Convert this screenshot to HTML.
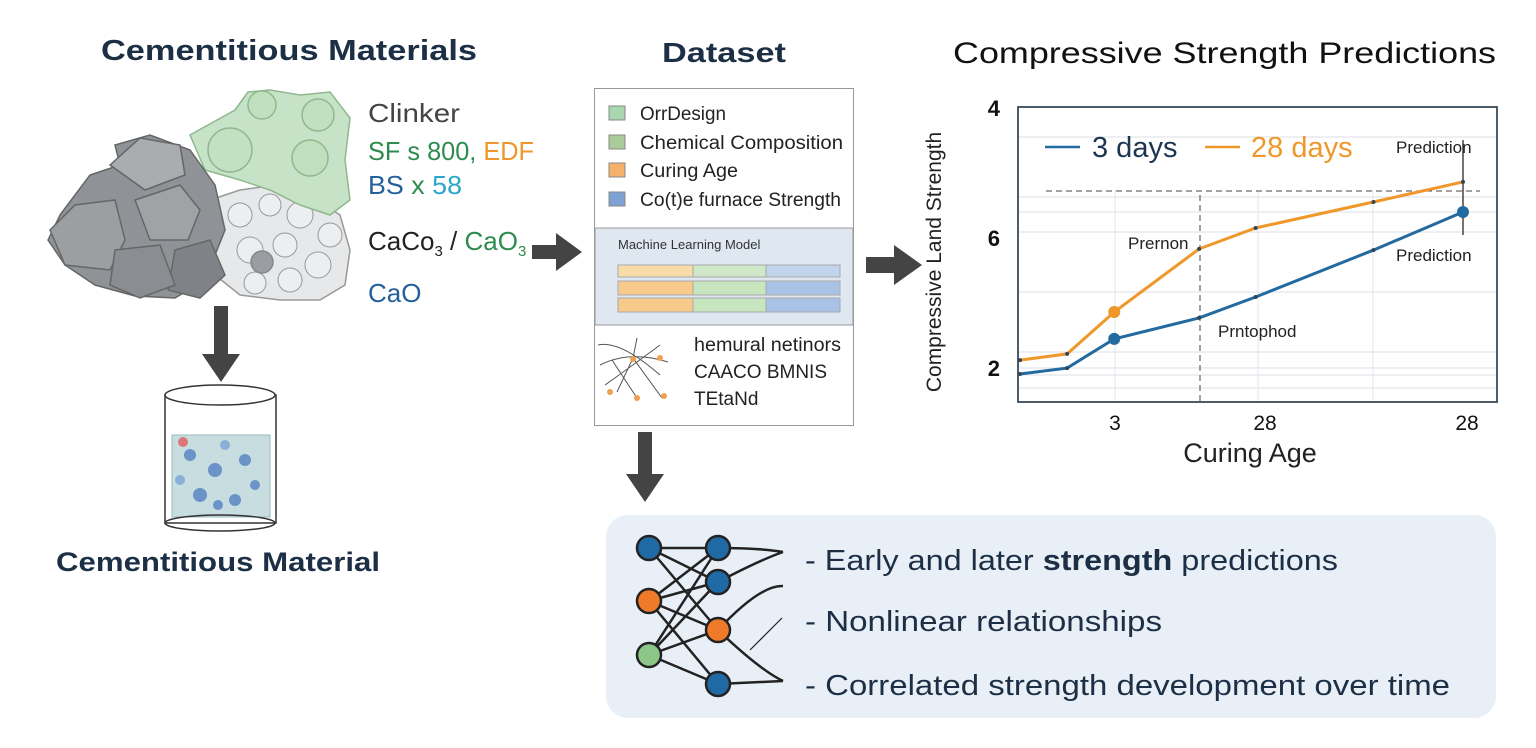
<!DOCTYPE html>
<html><head><meta charset="utf-8"><style>
body{margin:0;width:1536px;height:748px;background:#fff;overflow:hidden;font-family:"Liberation Sans","DejaVu Sans",sans-serif;}
svg{position:absolute;left:0;top:0}
</style></head><body>
<svg width="1536" height="748" viewBox="0 0 1536 748">
<!-- LEFT -->
<text x="101" y="60" font-size="29" font-weight="bold" fill="#1c2f45" textLength="376" lengthAdjust="spacingAndGlyphs">Cementitious Materials</text>
<g stroke="#666" stroke-width="1.5">
<path d="M210,200 L240,190 L275,185 L310,195 L340,215 L350,250 L345,285 L320,300 L280,300 L240,295 L215,275z" fill="#e6e8ea" stroke="#999"/>
<g fill="#eceef0" stroke="#999" stroke-width="1">
<circle cx="240" cy="215" r="12"/><circle cx="270" cy="205" r="11"/><circle cx="300" cy="215" r="13"/><circle cx="330" cy="235" r="12"/>
<circle cx="250" cy="250" r="13"/><circle cx="285" cy="245" r="12"/><circle cx="318" cy="265" r="13"/><circle cx="255" cy="283" r="11"/><circle cx="290" cy="280" r="12"/>
</g>
<circle cx="262" cy="262" r="11" fill="#9a9ea2" stroke="#888"/>
<path d="M190,135 L235,110 L248,92 L270,90 L300,95 L330,92 L350,118 L345,160 L350,200 L330,215 L300,205 L270,190 L240,180 L205,170z" fill="#c7e3c7" stroke="#8fb88f"/>
<circle cx="262" cy="105" r="14" fill="#c0e0c0" stroke="#8fb88f"/><circle cx="318" cy="115" r="16" fill="#c0e0c0" stroke="#8fb88f"/>
<circle cx="310" cy="158" r="18" fill="#bfdfbf" stroke="#8fb88f"/><circle cx="230" cy="150" r="22" fill="#c2e1c2" stroke="#8fb88f"/>
<path d="M60,215 L90,175 L120,165 L115,145 L150,135 L190,150 L215,185 L225,230 L205,280 L175,298 L135,296 L95,285 L65,265 L48,240z" fill="#8f9397"/>
<path d="M110,165 L140,138 L180,145 L185,175 L145,190z" fill="#a9adb0"/>
<path d="M135,200 L180,185 L200,210 L188,240 L150,240z" fill="#9fa3a6"/>
<path d="M50,230 L75,205 L115,200 L125,240 L110,270 L65,265z" fill="#9b9fa2"/>
<path d="M175,250 L210,240 L225,275 L200,298 L168,290z" fill="#7f8387"/>
<path d="M115,250 L160,245 L175,285 L140,298 L110,285z" fill="#8a8e92"/>
</g>
<text x="368" y="122" font-size="26" fill="#444" textLength="92" lengthAdjust="spacingAndGlyphs">Clinker</text>
<text x="368" y="160" font-size="26" textLength="166" lengthAdjust="spacingAndGlyphs"><tspan fill="#2e8b4e">SF s 800, </tspan><tspan fill="#f0962a">EDF</tspan></text>
<text x="368" y="194" font-size="26" textLength="94" lengthAdjust="spacingAndGlyphs"><tspan fill="#24609c">BS </tspan><tspan fill="#2e8b4e">x </tspan><tspan fill="#2aa6c8">58</tspan></text>
<text x="368" y="250" font-size="26"><tspan fill="#222">CaCo</tspan><tspan fill="#222" font-size="15" dy="6">3</tspan><tspan fill="#222" dy="-6"> / </tspan><tspan fill="#2e8b4e">CaO</tspan><tspan fill="#2e8b4e" font-size="15" dy="6">3</tspan></text>
<text x="368" y="302" font-size="26" fill="#24609c">CaO</text>
<path d="M214,306h14v48h12l-19,28l-19,-28h12z" fill="#444"/>
<g>
<rect x="165" y="395" width="111" height="128" fill="#fff" stroke="#333" stroke-width="1.5"/>
<rect x="172" y="435" width="98" height="82" fill="#c7dde0" stroke="#9bb"/>
<ellipse cx="220" cy="395" rx="55" ry="10" fill="#fff" stroke="#333" stroke-width="1.5"/>
<ellipse cx="220" cy="523" rx="55" ry="8" fill="none" stroke="#333" stroke-width="1.5"/>
<circle cx="190" cy="455" r="6" fill="#6b93c8"/><circle cx="215" cy="470" r="7" fill="#6b93c8"/><circle cx="245" cy="460" r="6" fill="#6b93c8"/>
<circle cx="200" cy="495" r="7" fill="#6b93c8"/><circle cx="235" cy="500" r="6" fill="#6b93c8"/><circle cx="255" cy="485" r="5" fill="#6b93c8"/><circle cx="183" cy="442" r="5" fill="#d77"/>
<circle cx="225" cy="445" r="5" fill="#8ab0d8"/><circle cx="180" cy="480" r="5" fill="#8ab0d8"/><circle cx="218" cy="505" r="5" fill="#6b93c8"/>
</g>
<text x="56" y="571" font-size="27" font-weight="bold" fill="#1c2f45" textLength="324" lengthAdjust="spacingAndGlyphs">Cementitious Material</text>
<path d="M532,245h24v-12l26,19l-26,19v-12h-24z" fill="#444"/>
<!-- MIDDLE -->
<text x="662" y="62" font-size="28" font-weight="bold" fill="#1c2f45" textLength="124" lengthAdjust="spacingAndGlyphs">Dataset</text>
<g>
<rect x="594.5" y="88.5" width="259" height="337" fill="#fff" stroke="#999"/>
<rect x="595" y="228" width="258" height="97" fill="#dfe7f1" stroke="#999"/>
<rect x="609" y="106" width="16" height="14" fill="#a9d8b0" stroke="#888"/><text x="640" y="120" font-size="19" fill="#222" textLength="86" lengthAdjust="spacingAndGlyphs">OrrDesign</text>
<rect x="609" y="135" width="16" height="14" fill="#a9cc9a" stroke="#888"/><text x="640" y="149" font-size="19" fill="#222" textLength="203" lengthAdjust="spacingAndGlyphs">Chemical Composition</text>
<rect x="609" y="163" width="16" height="14" fill="#f5b16a" stroke="#888"/><text x="640" y="177" font-size="19" fill="#222" textLength="98" lengthAdjust="spacingAndGlyphs">Curing Age</text>
<rect x="609" y="192" width="16" height="14" fill="#7fa2d4" stroke="#888"/><text x="640" y="206" font-size="19" fill="#222" textLength="201" lengthAdjust="spacingAndGlyphs">Co(t)e furnace Strength</text>
<text x="618" y="249" font-size="13" fill="#333">Machine Learning Model</text>
<g stroke="#aaa"><rect x="618" y="265" width="75" height="12" fill="#f7dba8"/><rect x="693" y="265" width="73" height="12" fill="#cfe8c8"/><rect x="766" y="265" width="74" height="12" fill="#c2d4ec"/>
<rect x="618" y="281" width="75" height="14" fill="#f7c98a"/><rect x="693" y="281" width="73" height="14" fill="#c7e5bf"/><rect x="766" y="281" width="74" height="14" fill="#a9c3e6"/>
<rect x="618" y="298" width="75" height="14" fill="#f7c98a"/><rect x="693" y="298" width="73" height="14" fill="#c7e5bf"/><rect x="766" y="298" width="74" height="14" fill="#a9c3e6"/></g>
<g stroke="#555" fill="none" stroke-width="1"><path d="M598,345 Q620,340 660,375 M600,365 Q630,350 668,362 M605,385 Q640,360 660,345 M612,360 L637,398 M633,358 L637,338 M633,358 L617,392 M633,358 L662,398"/></g>
<circle cx="633" cy="359" r="3" fill="#f0a050"/><circle cx="660" cy="358" r="3" fill="#f0a050"/><circle cx="610" cy="392" r="3" fill="#f0a050"/><circle cx="637" cy="398" r="3" fill="#f0a050"/><circle cx="664" cy="396" r="3" fill="#f0a050"/>
<text x="694" y="351" font-size="19" fill="#222" textLength="147" lengthAdjust="spacingAndGlyphs">hemural netinors</text>
<text x="694" y="378" font-size="19" fill="#222" textLength="133" lengthAdjust="spacingAndGlyphs">CAACO BMNIS</text>
<text x="694" y="405" font-size="19" fill="#222">TEtaNd</text>
</g>
<path d="M866,257h28v-12l28,20l-28,20v-12h-28z" fill="#444"/>
<path d="M638,432h14v42h12l-19,28l-19,-28h12z" fill="#444"/>
<!-- BOTTOM PANEL -->
<rect x="606" y="515" width="890" height="203" rx="22" fill="#e8eff7"/>
<g fill="none" stroke="#222" stroke-width="2.5">
<path d="M649,548 L718,548 M649,548 L718,582 M649,548 L718,630 M649,601 L718,548 M649,601 L718,582 M649,601 L718,630 M649,601 L718,684 M649,655 L718,582 M649,655 L718,630 M649,655 L718,684 M649,655 L718,548"/>
<path d="M718,548 Q760,548 783,552 M718,582 Q760,560 783,552 M718,630 Q760,585 783,586 M718,630 Q760,670 783,681 M718,684 L783,681"/>
<path d="M782,618 L750,650" stroke-width="1.2"/>
<circle cx="649" cy="548" r="12" fill="#1f6aa5"/><circle cx="649" cy="601" r="12" fill="#ee7a2a"/><circle cx="649" cy="655" r="12" fill="#8cc788"/>
<circle cx="718" cy="548" r="12" fill="#1f6aa5"/><circle cx="718" cy="582" r="12" fill="#1f6aa5"/><circle cx="718" cy="630" r="12" fill="#ee7a2a"/><circle cx="718" cy="684" r="12" fill="#1f6aa5"/>
</g>
<g font-size="29" fill="#1c2f45">
<text x="805" y="570" textLength="533" lengthAdjust="spacingAndGlyphs">- Early and later <tspan font-weight="bold">strength</tspan> predictions</text>
<text x="805" y="631" textLength="357" lengthAdjust="spacingAndGlyphs">- Nonlinear relationships</text>
<text x="805" y="695" textLength="645" lengthAdjust="spacingAndGlyphs">- Correlated strength development over time</text>
</g>
<!-- CHART -->
<text x="953" y="63" font-size="30" fill="#111" textLength="543" lengthAdjust="spacingAndGlyphs">Compressive Strength Predictions</text>
<g id="chart"></g>
</svg>
<script>
const ages=[0,1,2,3.8,5,7.5,9.4];
const days28=[1.42,1.63,3.05,5.19,5.9,6.78,7.46];
const days3=[0.95,1.15,2.14,2.85,3.56,5.15,6.44];
const yTickLabels=["4","6","2"];
const xTickLabels=["3","28","28"];
const NS="http://www.w3.org/2000/svg";
const L=1018,R=1497,T=107,B=402;
const xs=v=>1020+v*(1463-1020)/9.4;
const ys=v=>B-v*(B-T)/10;
const g=document.getElementById('chart');
function mk(t,a,p){const e=document.createElementNS(NS,t);for(const k in a)e.setAttribute(k,a[k]);(p||g).appendChild(e);return e;}
[137,197,212,232,292,352,368,375,388].forEach(y=>{const e=mk('line',{x1:L,x2:R,y1:y,y2:y,stroke:'#e2e5ea','stroke-width':1.2});

});
[1115,1258,1373].forEach(x=>{const e=mk('line',{x1:x,x2:x,y1:190,y2:B,stroke:'#e2e5ea'});

});
mk('line',{x1:1046,x2:1480,y1:191,y2:191,stroke:'#444','stroke-dasharray':'6 4'});
mk('line',{x1:1200,x2:1200,y1:195,y2:402,stroke:'#444','stroke-dasharray':'6 4'});
mk('line',{x1:1463,x2:1463,y1:140,y2:235,stroke:'#444','stroke-width':1.5});
mk('rect',{x:L,y:T,width:R-L,height:B-T,fill:'none',stroke:'#3a4a5a','stroke-width':1.8});
function series(vals,col,name,bigIdx){
  const p=vals.map((v,i)=>xs(ages[i])+','+ys(v)).join(' ');
  const pl=mk('polyline',{points:p,fill:'none',stroke:col,'stroke-width':3});
  
  
  vals.forEach((v,i)=>{const c=mk('circle',{cx:xs(ages[i]),cy:ys(v),r:bigIdx.includes(i)?6:2,fill:bigIdx.includes(i)?col:'#345'});
  
  });
}
series(days28,'#f0972a','line-28-days',[2]);
series(days3,'#236aa0','line-3-days',[2,6]);
mk('line',{x1:1045,x2:1080,y1:147,y2:147,stroke:'#236aa0','stroke-width':2.5});
let t=mk('text',{x:1092,y:157,'font-size':29,fill:'#1c3552'});t.textContent='3 days';


mk('line',{x1:1205,x2:1240,y1:147,y2:147,stroke:'#f0972a','stroke-width':2.5});
t=mk('text',{x:1251,y:157,'font-size':29,fill:'#f0972a'});t.textContent='28 days';


[['Prediction',1396,153],['Prediction',1396,261],['Prernon',1128,249],['Prntophod',1218,337]].forEach(a=>{const e=mk('text',{x:a[1],y:a[2],'font-size':17,fill:'#222'});e.textContent=a[0];

});
[[1000,116],[1000,246],[1000,376]].forEach((p,i)=>{const e=mk('text',{x:p[0],y:p[1],'font-size':22,'font-weight':'bold','text-anchor':'end',fill:'#111'});e.textContent=yTickLabels[i];

});
[1115,1265,1467].forEach((x,i)=>{const e=mk('text',{x:x,y:430,'font-size':21,'text-anchor':'middle',fill:'#111'});e.textContent=xTickLabels[i];

});
t=mk('text',{x:1250,y:462,'font-size':27,'text-anchor':'middle',fill:'#222'});t.textContent='Curing Age';


t=mk('text',{x:0,y:0,'font-size':21,'text-anchor':'middle',fill:'#222',transform:'translate(941,262) rotate(-90)'});t.textContent='Compressive Land Strength';


</script>
</body></html>
